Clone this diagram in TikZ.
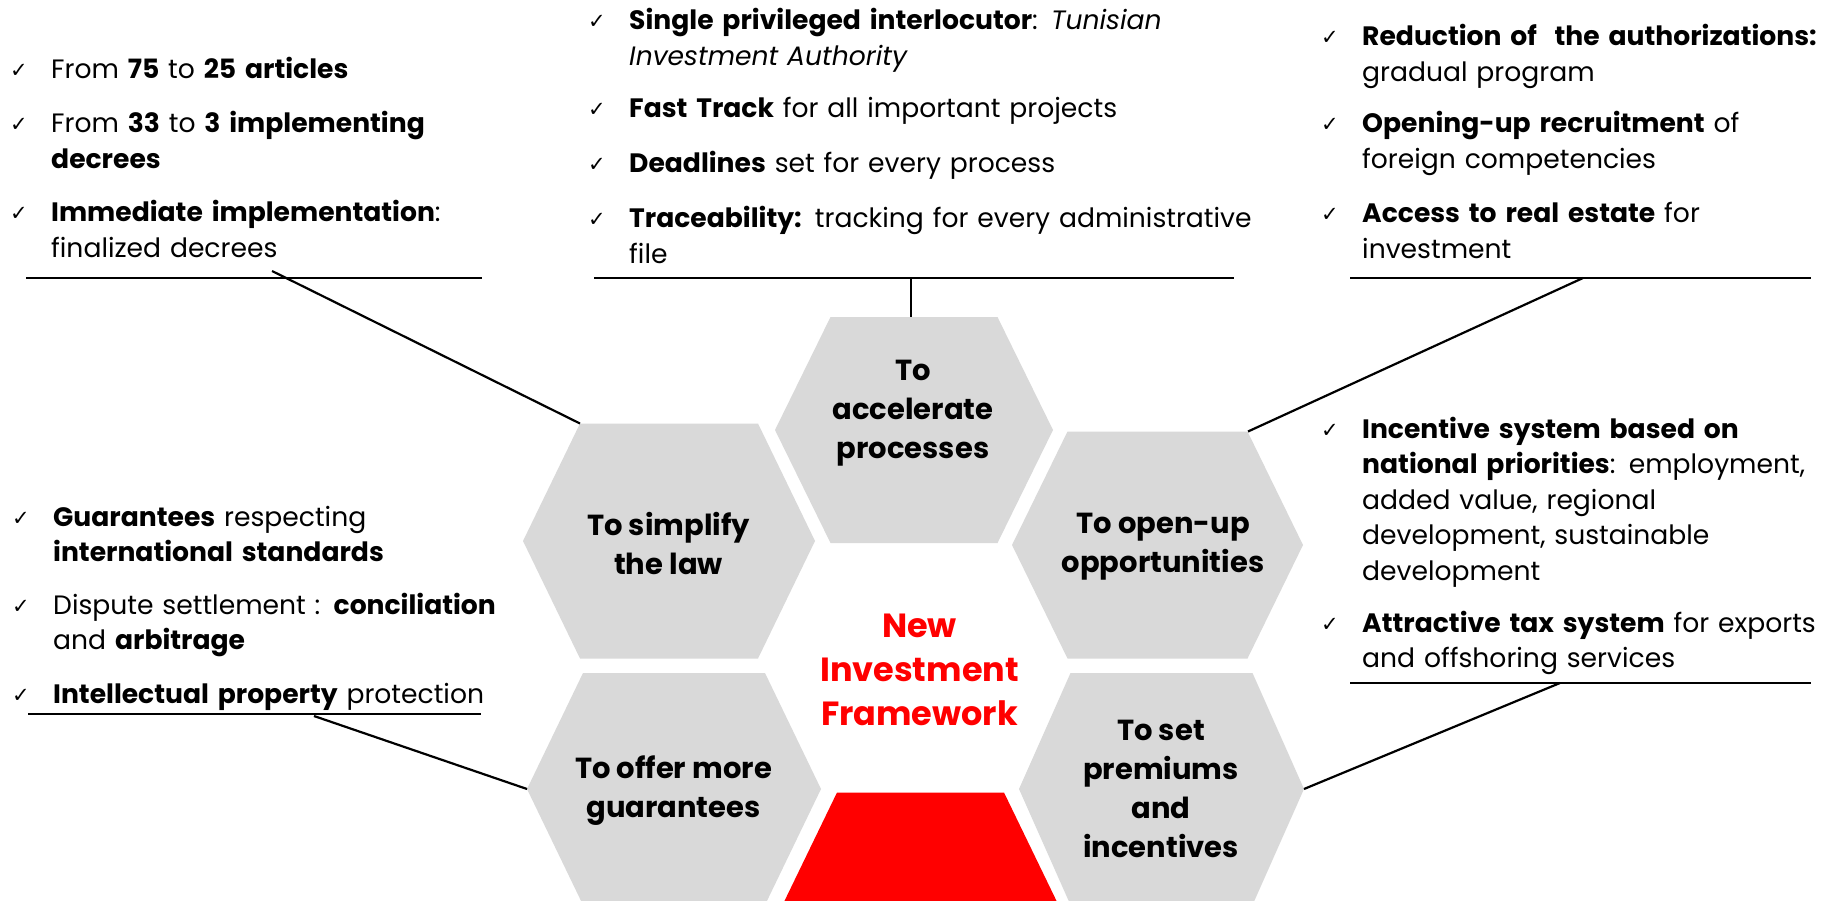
\documentclass[tikz,border=0pt]{standalone}
\usepackage{fontspec}
\setmainfont{Poppins}
\newfontfamily\checkfont{DejaVu Sans}
\hyphenpenalty=10000
\exhyphenpenalty=10000

\definecolor{hexgray}{HTML}{D9D9D9}
\definecolor{frred}{HTML}{FF0000}

% check mark hanging in the left margin of a list entry
\newcommand\itemcheck{\leavevmode\llap{\makebox[41pt][l]{\raisebox{1pt}{\checkfont\fontsize{21}{21}\selectfont ✓}}}}

% flat-topped hexagon: centre x, centre y, half width, half top edge, half height
\newcommand\hexcell[5]{(#1-#3,#2) -- (#1-#4,#2-#5) -- (#1+#4,#2-#5) -- (#1+#3,#2) -- (#1+#4,#2+#5) -- (#1-#4,#2+#5) -- cycle}

\tikzset{
  hexfill/.style={fill=hexgray, draw=none},
  item/.style={anchor=base west, inner sep=0pt, text width=800pt, align=left,
    font=\fontsize{26.6}{35.5}\selectfont},
  hexlabel/.style={align=center, inner sep=0pt, font=\bfseries\fontsize{29}{39}\selectfont},
  corelabel/.style={align=center, inner sep=0pt, text=frred, font=\bfseries\fontsize{33.5}{44}\selectfont},
  rule/.style={line width=2.2pt, black},
  link/.style={line width=2.2pt, black},
}

\begin{document}
\begin{tikzpicture}[x=1pt, y=-1pt]
\useasboundingbox (0,0) rectangle (1833,901);
\clip (0,0) rectangle (1833,901);
\fill[white] (0,0) rectangle (1833,901);

% honeycomb
\fill[hexfill] \hexcell{914}{430}{139}{83.5}{113};
\fill[hexfill] \hexcell{669}{541}{146}{89}{117.5};
\fill[hexfill] \hexcell{1157.5}{545}{145.5}{90}{113.5};
\fill[hexfill] \hexcell{674}{789}{147}{91}{116};
\fill[hexfill] \hexcell{1161.5}{789}{142.5}{91}{116};
\fill[frred] \hexcell{920.5}{905}{138}{83.5}{112.5};

\node[hexlabel] (acc) at (913,413.5) {To\\accelerate\\processes};
\node[hexlabel] (sim) at (668.5,543) {To simplify\\the law};
\node[hexlabel] (opn) at (1163,547) {To open-up\\opportunities};
\node[hexlabel] (off) at (673.5,790.5) {To offer more\\guarantees};
\node[hexlabel] (prm) at (1161,788.5) {To set\\premiums\\and\\incentives};
\node[corelabel] (core) at (919.5,670) {New\\Investment\\Framework};

% hexagon corners reached by the connectors
\coordinate (sim-tl) at (580,423.5);
\coordinate (acc-top) at (911,317);
\coordinate (opn-tr) at (1248,431.5);
\coordinate (off-l) at (527,789);
\coordinate (prm-r) at (1304,789);

% top left: simplify the law
\node[item] (l1) at (51,79) {\itemcheck From \textbf{75} to \textbf{25 articles}};
\node[item] (l2) at (51,133) {\itemcheck From \textbf{33} to \textbf{3 implementing}\\\textbf{decrees}};
\node[item] (l3) at (51,222) {\itemcheck \textbf{Immediate implementation}:\\finalized decrees};
\coordinate (u1a) at (26,278);
\coordinate (u1b) at (482,278);
\coordinate (u1c) at (272,271);
\draw[rule] (u1a) -- (u1b);
\draw[link] (u1c) -- (sim-tl);

% top centre: accelerate processes
\node[item] (c1) at (629,30) {\itemcheck \textbf{Single privileged interlocutor}: \textit{Tunisian}\\\textit{Investment Authority}};
\node[item] (c2) at (629,118) {\itemcheck \textbf{Fast Track} for all important projects};
\node[item] (c3) at (629,173) {\itemcheck \textbf{Deadlines} set for every process};
\node[item] (c4) at (629,228) {\itemcheck \textbf{Traceability:} tracking for every administrative\\file};
\coordinate (u2a) at (594,278);
\coordinate (u2b) at (1234,278);
\coordinate (u2c) at (911,278);
\draw[rule] (u2a) -- (u2b);
\draw[link] (u2c) -- (acc-top);

% top right: open-up opportunities
\node[item] (r1) at (1362,46) {\itemcheck \textbf{Reduction of\ \ the authorizations:}\\gradual program};
\node[item] (r2) at (1362,133) {\itemcheck \textbf{Opening-up recruitment} of\\foreign competencies};
\node[item] (r3) at (1362,223) {\itemcheck \textbf{Access to real estate} for\\investment};
\coordinate (u3a) at (1350,278);
\coordinate (u3b) at (1811,278);
\coordinate (u3c) at (1583,278);
\draw[rule] (u3a) -- (u3b);
\draw[link] (u3c) -- (opn-tr);

% bottom left: more guarantees
\node[item] (g1) at (53,526) {\itemcheck \textbf{Guarantees} respecting\\\textbf{international standards}};
\node[item] (g2) at (53,614) {\itemcheck Dispute settlement : \textbf{conciliation}\\and \textbf{arbitrage}};
\node[item] (g3) at (53,703) {\itemcheck \textbf{Intellectual property} protection};
\coordinate (u4a) at (28,714);
\coordinate (u4b) at (481,714);
\coordinate (u4c) at (314,716);
\draw[rule] (u4a) -- (u4b);
\draw[link] (u4c) -- (off-l);

% right: premiums and incentives
\node[item] (p1) at (1362,438) {\itemcheck \textbf{Incentive system based on}\\\textbf{national priorities}: employment,\\added value, regional\\development, sustainable\\development};
\node[item] (p2) at (1362,632) {\itemcheck \textbf{Attractive tax system} for exports\\and offshoring services};
\coordinate (u5a) at (1350,683);
\coordinate (u5b) at (1811,683);
\coordinate (u5c) at (1560,683);
\draw[rule] (u5a) -- (u5b);
\draw[link] (u5c) -- (prm-r);
\end{tikzpicture}
\end{document}
